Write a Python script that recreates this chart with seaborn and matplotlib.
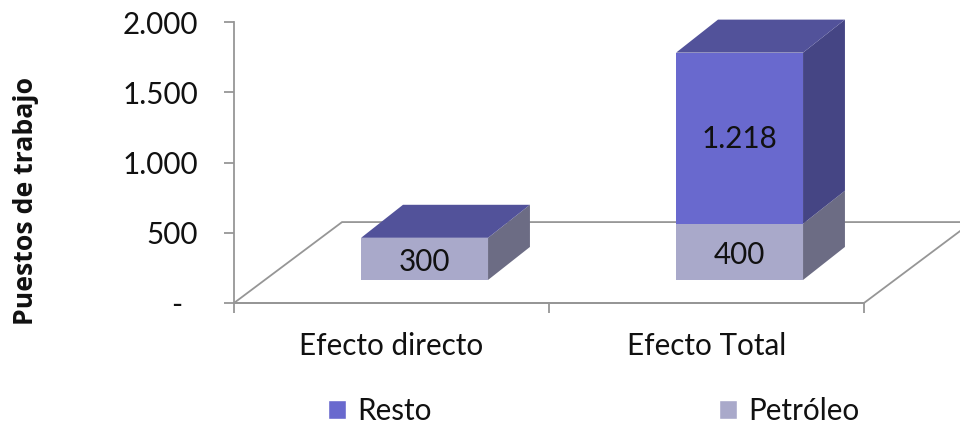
import matplotlib
matplotlib.use("Agg")
import matplotlib.pyplot as plt
from matplotlib.patches import Polygon, Rectangle
import pandas as pd
import seaborn as sns

categories = ["Efecto directo", "Efecto Total"]
petroleo = [300, 400]
resto = [0, 1218]
y_ticks = [0, 500, 1000, 1500, 2000]
y_labels = ["-  ", "500", "1.000", "1.500", "2.000"]

RESTO = "#6969CE"
RESTO_TOP = "#52529A"
RESTO_SIDE = "#454584"
PETROLEO = "#A9A9CA"
PETROLEO_TOP = "#52529A"
PETROLEO_SIDE = "#6C6C84"
GRID = "#969696"
INK = "#111111"
TEXT_SIZE = 21.3

W, H = 960, 424
BAR_W = 0.403
BAR_SHIFT = 0.105   # bars sit right of the tick centre
FLOOR = 164         # base of bars above the front edge, in y units
DX, DY = 0.133, 235  # depth of the box
FLOOR_DX, FLOOR_DY = 0.343, 576

sns.set_style("white")
plt.rcParams["font.family"] = ["Lato", "DejaVu Sans"]

df = pd.DataFrame({"cat": categories, "petroleo": petroleo, "resto": resto})
df["total"] = df["petroleo"] + df["resto"]

fig = plt.figure(figsize=(W / 100, H / 100), dpi=100)
ax = fig.add_axes([234 / W, 1 - 303 / H, 630 / W, 281 / H])


def draw_box(x0, low, high, top, side):
    x1 = x0 + BAR_W
    ax.add_patch(Polygon([(x1, low), (x1 + DX, low + DY), (x1 + DX, high + DY), (x1, high)],
                         fc=side, ec="none", clip_on=False, zorder=3))
    if top is not None:
        ax.add_patch(Polygon([(x0, high), (x0 + DX, high + DY), (x1 + DX, high + DY), (x1, high)],
                             fc=top, ec="none", clip_on=False, zorder=3))


# floor
ax.add_patch(Polygon([(-0.5, 0), (-0.5 + FLOOR_DX, FLOOR_DY), (1.5 + FLOOR_DX, FLOOR_DY), (1.5, 0)],
                     fc="white", ec=GRID, lw=1.3, clip_on=False, zorder=1))

# front faces through seaborn, resto first then petroleo over it
sns.barplot(data=df[df["resto"] > 0], x="cat", y="total", order=categories, color=RESTO, width=BAR_W,
            saturation=1, bottom=FLOOR, linewidth=0, ax=ax, zorder=4)
sns.barplot(data=df, x="cat", y="petroleo", order=categories, color=PETROLEO, width=BAR_W,
            saturation=1, bottom=FLOOR, linewidth=0, ax=ax, zorder=5)
for p in ax.patches:
    if isinstance(p, Rectangle):
        p.set_x(p.get_x() + BAR_SHIFT)
        p.set_clip_on(False)

for i in range(len(categories)):
    x0 = i - BAR_W / 2 + BAR_SHIFT
    low = FLOOR
    mid = FLOOR + petroleo[i]
    high = mid + resto[i]
    draw_box(x0, low, mid, PETROLEO_TOP if resto[i] == 0 else None, PETROLEO_SIDE)
    if resto[i] > 0:
        draw_box(x0, mid, high, RESTO_TOP, RESTO_SIDE)
    ax.text(i + BAR_SHIFT, FLOOR + petroleo[i] / 2 - 22, f"{petroleo[i]}", ha="center", va="center",
            fontsize=TEXT_SIZE, color=INK, zorder=6)
    if resto[i] > 0:
        ax.text(i + BAR_SHIFT, mid + resto[i] / 2 - 7, f"{resto[i] / 1000:.3f}", ha="center", va="center",
                fontsize=TEXT_SIZE, color=INK, zorder=6)

ax.set_xlim(-0.5, 1.5)
ax.set_ylim(0, 2000)
ax.set_yticks(y_ticks, y_labels, fontsize=TEXT_SIZE, color=INK)
ax.set_xticks([0, 1], categories, fontsize=TEXT_SIZE, color=INK)
ax.set_xticks([-0.5, 0.5, 1.5], minor=True)
ax.tick_params(axis="x", which="major", bottom=False, length=0, pad=21)
ax.tick_params(axis="x", which="minor", bottom=True, length=7, width=1.3, color=GRID)
ax.tick_params(axis="y", left=True, length=7, width=1.3, color=GRID, pad=19)
ax.set_xlabel("")
ax.set_ylabel("")
fig.text(26 / W, 1 - 201 / H, "Puestos de trabajo", rotation=90, ha="center", va="center",
         fontsize=19.2, fontweight="bold", family="Open Sans", color=INK)

for name, spine in ax.spines.items():
    spine.set_visible(name in ("left", "bottom"))
    spine.set_color(GRID)
    spine.set_linewidth(1.3)
    spine.set_zorder(2)
ax.patch.set_alpha(0)

handles = [Rectangle((0, 0), 1, 1, fc=RESTO), Rectangle((0, 0), 1, 1, fc=PETROLEO)]
fig.legend(handles, ["Resto", "Petróleo"], loc="center", bbox_to_anchor=(594 / W, 1 - 411 / H), ncol=2,
           frameon=False, fontsize=TEXT_SIZE, handlelength=0.6, handleheight=0.6, handletextpad=0.4,
           columnspacing=9.7, labelcolor=INK)

fig.savefig("out.png", dpi=100)
